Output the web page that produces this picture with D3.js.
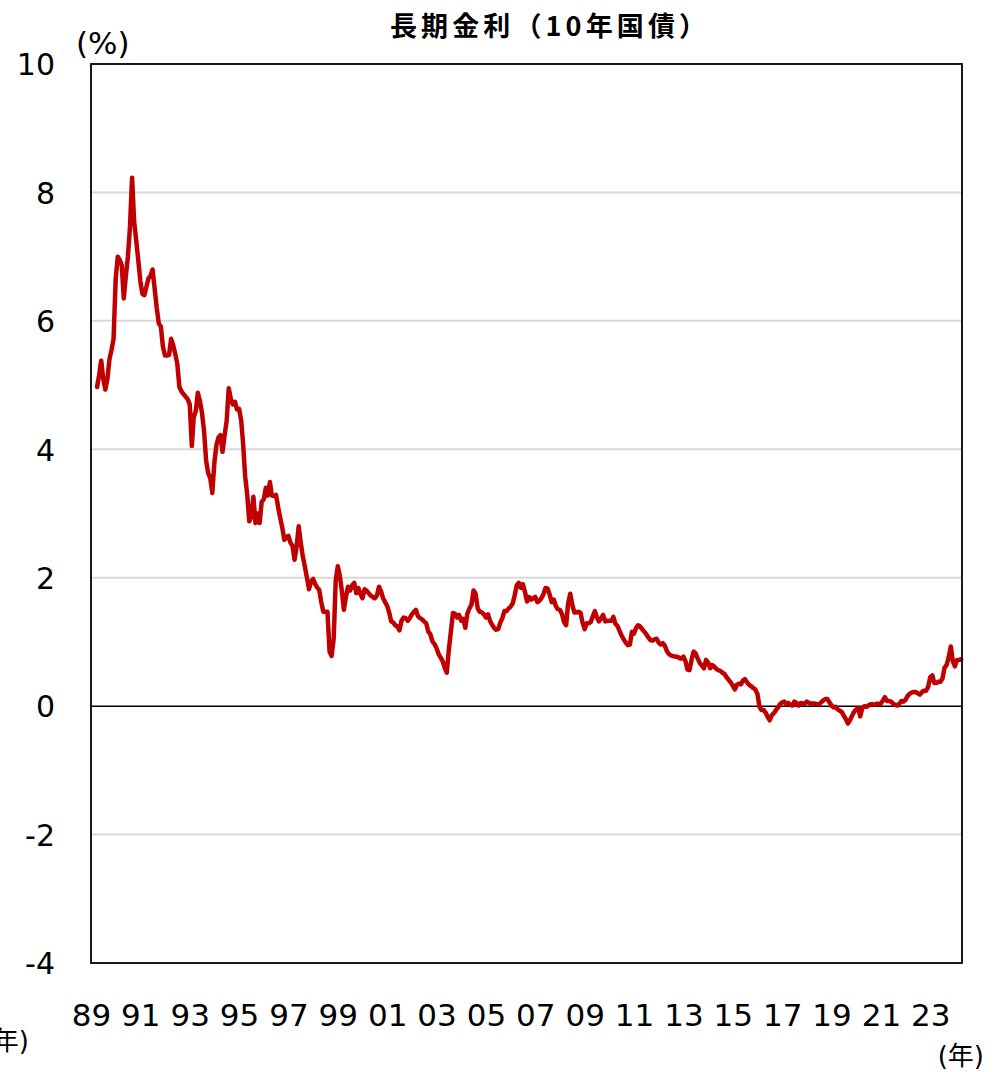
<!DOCTYPE html>
<html>
<head>
<meta charset="utf-8">
<script src="https://cdn.jsdelivr.net/npm/d3@7"></script>
<style>
  html, body { margin: 0; padding: 0; background: #fff; }
  svg { display: block; }
</style>
</head>
<body>
<div id="chart"></div>
<script>
// 長期金利（10年国債）, month-end yield, %
const firstMonth = "1989-04";
const yields = [
  4.97, 5.15, 5.38, 5.10, 4.93, 5.10, 5.40, 5.55, 5.72,                 // 1989 (Apr-)
  6.65, 7.00, 6.95, 6.87, 6.35, 6.70, 7.00, 7.47, 8.23, 7.55, 7.25, 6.95, // 1990
  6.62, 6.42, 6.40, 6.53, 6.66, 6.70, 6.80, 6.50, 6.20, 5.96, 5.91, 5.60, // 1991
  5.46, 5.46, 5.47, 5.72, 5.62, 5.48, 5.33, 4.97, 4.90, 4.86, 4.82, 4.78, // 1992
  4.70, 4.05, 4.50, 4.60, 4.88, 4.75, 4.57, 4.28, 3.82, 3.63, 3.55, 3.32, // 1993
  3.80, 4.07, 4.18, 4.22, 3.96, 4.22, 4.44, 4.95, 4.78, 4.70, 4.74, 4.62, // 1994
  4.63, 4.45, 4.10, 3.58, 3.30, 2.88, 2.95, 3.26, 2.85, 3.00, 2.85, 3.18, // 1995
  3.22, 3.40, 3.28, 3.49, 3.28, 3.27, 3.29, 3.10, 2.93, 2.78, 2.59, 2.63, // 1996
  2.65, 2.54, 2.50, 2.28, 2.48, 2.80, 2.55, 2.33, 2.17, 2.00, 1.82, 1.94, // 1997
  1.98, 1.90, 1.85, 1.81, 1.62, 1.47, 1.47, 1.47, 0.85, 0.78, 1.05, 1.95, // 1998
  2.18, 2.02, 1.80, 1.50, 1.70, 1.86, 1.80, 1.88, 1.92, 1.76, 1.84, 1.75, // 1999
  1.68, 1.82, 1.80, 1.76, 1.72, 1.70, 1.68, 1.72, 1.86, 1.79, 1.68, 1.62, // 2000
  1.56, 1.45, 1.32, 1.30, 1.26, 1.24, 1.18, 1.33, 1.38, 1.37, 1.33, 1.37, // 2001
  1.43, 1.47, 1.50, 1.40, 1.37, 1.35, 1.32, 1.29, 1.16, 1.12, 1.01, 0.97, // 2002
  0.90, 0.81, 0.76, 0.70, 0.60, 0.52, 0.87, 1.16, 1.45, 1.44, 1.38, 1.42, // 2003
  1.33, 1.36, 1.22, 1.44, 1.52, 1.58, 1.80, 1.75, 1.52, 1.47, 1.46, 1.43, // 2004
  1.38, 1.43, 1.33, 1.27, 1.22, 1.19, 1.20, 1.30, 1.37, 1.48, 1.48, 1.52, // 2005
  1.55, 1.60, 1.72, 1.88, 1.92, 1.84, 1.90, 1.78, 1.63, 1.70, 1.66, 1.68, // 2006
  1.70, 1.62, 1.64, 1.68, 1.74, 1.84, 1.83, 1.74, 1.62, 1.66, 1.56, 1.51, // 2007
  1.50, 1.43, 1.31, 1.26, 1.60, 1.75, 1.58, 1.46, 1.46, 1.47, 1.45, 1.30, // 2008
  1.20, 1.29, 1.29, 1.31, 1.40, 1.48, 1.38, 1.32, 1.37, 1.42, 1.32, 1.33, // 2009
  1.33, 1.33, 1.39, 1.28, 1.25, 1.17, 1.10, 1.04, 0.99, 0.95, 0.96, 1.16, // 2010
  1.13, 1.22, 1.26, 1.24, 1.20, 1.16, 1.12, 1.07, 1.03, 1.02, 1.04, 1.05, // 2011
  0.99, 0.96, 0.98, 0.94, 0.86, 0.81, 0.79, 0.78, 0.77, 0.77, 0.75, 0.74, // 2012
  0.77, 0.70, 0.57, 0.56, 0.72, 0.85, 0.82, 0.74, 0.67, 0.63, 0.59, 0.72, // 2013
  0.68, 0.59, 0.64, 0.62, 0.58, 0.56, 0.55, 0.52, 0.50, 0.45, 0.41, 0.37, // 2014
  0.32, 0.26, 0.33, 0.35, 0.34, 0.40, 0.42, 0.37, 0.33, 0.31, 0.28, 0.26, // 2015
  0.19, -0.01, -0.06, -0.06, -0.10, -0.17, -0.22, -0.14, -0.11, -0.06, -0.02, 0.03, // 2016
  0.06, 0.07, 0.03, 0.05, 0.02, 0.01, 0.07, 0.05, 0.01, 0.05, 0.04, 0.04, // 2017
  0.07, 0.05, 0.04, 0.04, 0.04, 0.03, 0.03, 0.06, 0.09, 0.11, 0.11, 0.06, // 2018
  0.01, -0.02, -0.01, -0.05, -0.07, -0.09, -0.15, -0.20, -0.27, -0.22, -0.15, -0.09, // 2019
  -0.05, -0.03, -0.16, -0.03, 0.00, -0.01, 0.01, 0.03, 0.03, 0.02, 0.04, 0.03, // 2020
  0.04, 0.09, 0.14, 0.08, 0.08, 0.07, 0.04, 0.02, 0.01, 0.04, 0.08, 0.07, // 2021
  0.10, 0.16, 0.19, 0.21, 0.22, 0.22, 0.20, 0.18, 0.22, 0.24, 0.24, 0.30, // 2022
  0.45, 0.48, 0.36, 0.36, 0.38, 0.38, 0.43, 0.60, 0.64, 0.76, 0.93, 0.70, // 2023
  0.62, 0.72, 0.72, 0.73                                                  // 2024
];

const yearTicks = [1989, 1991, 1993, 1995, 1997, 1999, 2001, 2003, 2005,
                   2007, 2009, 2011, 2013, 2015, 2017, 2019, 2021, 2023];
const yearLabels = ["89", "91", "93", "95", "97", "99", "01", "03", "05",
                    "07", "09", "11", "13", "15", "17", "19", "21", "23"];
const valueTicks = [-4, -2, 0, 2, 4, 6, 8, 10];

const titleText = "長期金利（10年国債）";
const unitY = "(%)";
const unitX = "(年)";

// ---- layout ----
const W = 1008, H = 1072;
const plot = { left: 91, right: 962, top: 64, bottom: 963 };

const parseMonth = d3.timeParse("%Y-%m");
const start = parseMonth(firstMonth);
const series = yields.map((v, i) => ({ date: d3.timeMonth.offset(start, i), value: v }));

const x = d3.scaleTime()
  .domain([new Date(1989, 0, 1), new Date(2024, 3, 15)])
  .range([plot.left, plot.right]);
const y = d3.scaleLinear()
  .domain([-4, 10])
  .range([plot.bottom, plot.top]);

const svg = d3.select("#chart").append("svg")
  .attr("width", W).attr("height", H)
  .attr("viewBox", `0 0 ${W} ${H}`);

const numFont = "'DejaVu Sans', Verdana, sans-serif";
const jpFont = "'Noto Sans CJK JP', 'Noto Sans', sans-serif";

// gridlines
svg.append("g")
  .selectAll("line")
  .data(valueTicks.filter(v => v !== 0 && v !== 10 && v !== -4))
  .join("line")
  .attr("x1", plot.left).attr("x2", plot.right)
  .attr("y1", d => y(d)).attr("y2", d => y(d))
  .attr("stroke", "#d9d9d9").attr("stroke-width", 2);

// zero line
svg.append("line")
  .attr("x1", plot.left).attr("x2", plot.right)
  .attr("y1", y(0)).attr("y2", y(0))
  .attr("stroke", "#000").attr("stroke-width", 1.5);

// yield line
const line = d3.line()
  .x(d => x(d.date))
  .y(d => y(d.value));

svg.append("path")
  .datum(series)
  .attr("fill", "none")
  .attr("stroke", "#c00000")
  .attr("stroke-width", 4.5)
  .attr("stroke-linejoin", "round")
  .attr("stroke-linecap", "round")
  .attr("d", line);

// plot frame
svg.append("rect")
  .attr("x", plot.left).attr("y", plot.top)
  .attr("width", plot.right - plot.left)
  .attr("height", plot.bottom - plot.top)
  .attr("fill", "none")
  .attr("stroke", "#000").attr("stroke-width", 1.8);

// y axis
const yAxis = d3.axisLeft(y)
  .tickValues(valueTicks)
  .tickSize(0)
  .tickPadding(0)
  .tickFormat(d => String(d));
const gy = svg.append("g")
  .attr("transform", `translate(${plot.left - 36},0)`)
  .call(yAxis);
gy.select(".domain").remove();
gy.selectAll("text")
  .attr("font-family", numFont)
  .attr("font-size", 30)
  .attr("fill", "#000")
  .attr("dy", "0.36em");

// x axis
const xAxis = d3.axisBottom(x)
  .tickValues(yearTicks.map(yr => new Date(yr, 0, 1)))
  .tickSize(0)
  .tickPadding(0)
  .tickFormat((d, i) => yearLabels[i]);
const gx = svg.append("g")
  .attr("transform", `translate(0,${plot.bottom})`)
  .call(xAxis);
gx.select(".domain").remove();
gx.selectAll("text")
  .attr("font-family", numFont)
  .attr("font-size", 31)
  .attr("fill", "#000")
  .attr("dy", null)
  .attr("y", 63);

// title
svg.append("text")
  .attr("x", 548).attr("y", 36)
  .attr("text-anchor", "middle")
  .attr("font-family", jpFont)
  .attr("font-weight", "bold")
  .attr("font-size", 27)
  .attr("textLength", 316)
  .attr("lengthAdjust", "spacing")
  .attr("fill", "#000")
  .text(titleText);

// unit labels
svg.append("text")
  .attr("x", 76).attr("y", 54)
  .attr("font-family", numFont)
  .attr("font-size", 31)
  .attr("fill", "#000")
  .text(unitY);

svg.append("text")
  .attr("x", 984).attr("y", 1065)
  .attr("text-anchor", "end")
  .attr("font-family", "'DejaVu Sans', 'Noto Sans CJK JP', sans-serif")
  .attr("font-size", 26)
  .attr("fill", "#000")
  .text(unitX);

svg.append("text")
  .attr("x", 29).attr("y", 1050)
  .attr("text-anchor", "end")
  .attr("font-family", "'DejaVu Sans', 'Noto Sans CJK JP', sans-serif")
  .attr("font-size", 26)
  .attr("fill", "#000")
  .text(unitX);
</script>
</body>
</html>
